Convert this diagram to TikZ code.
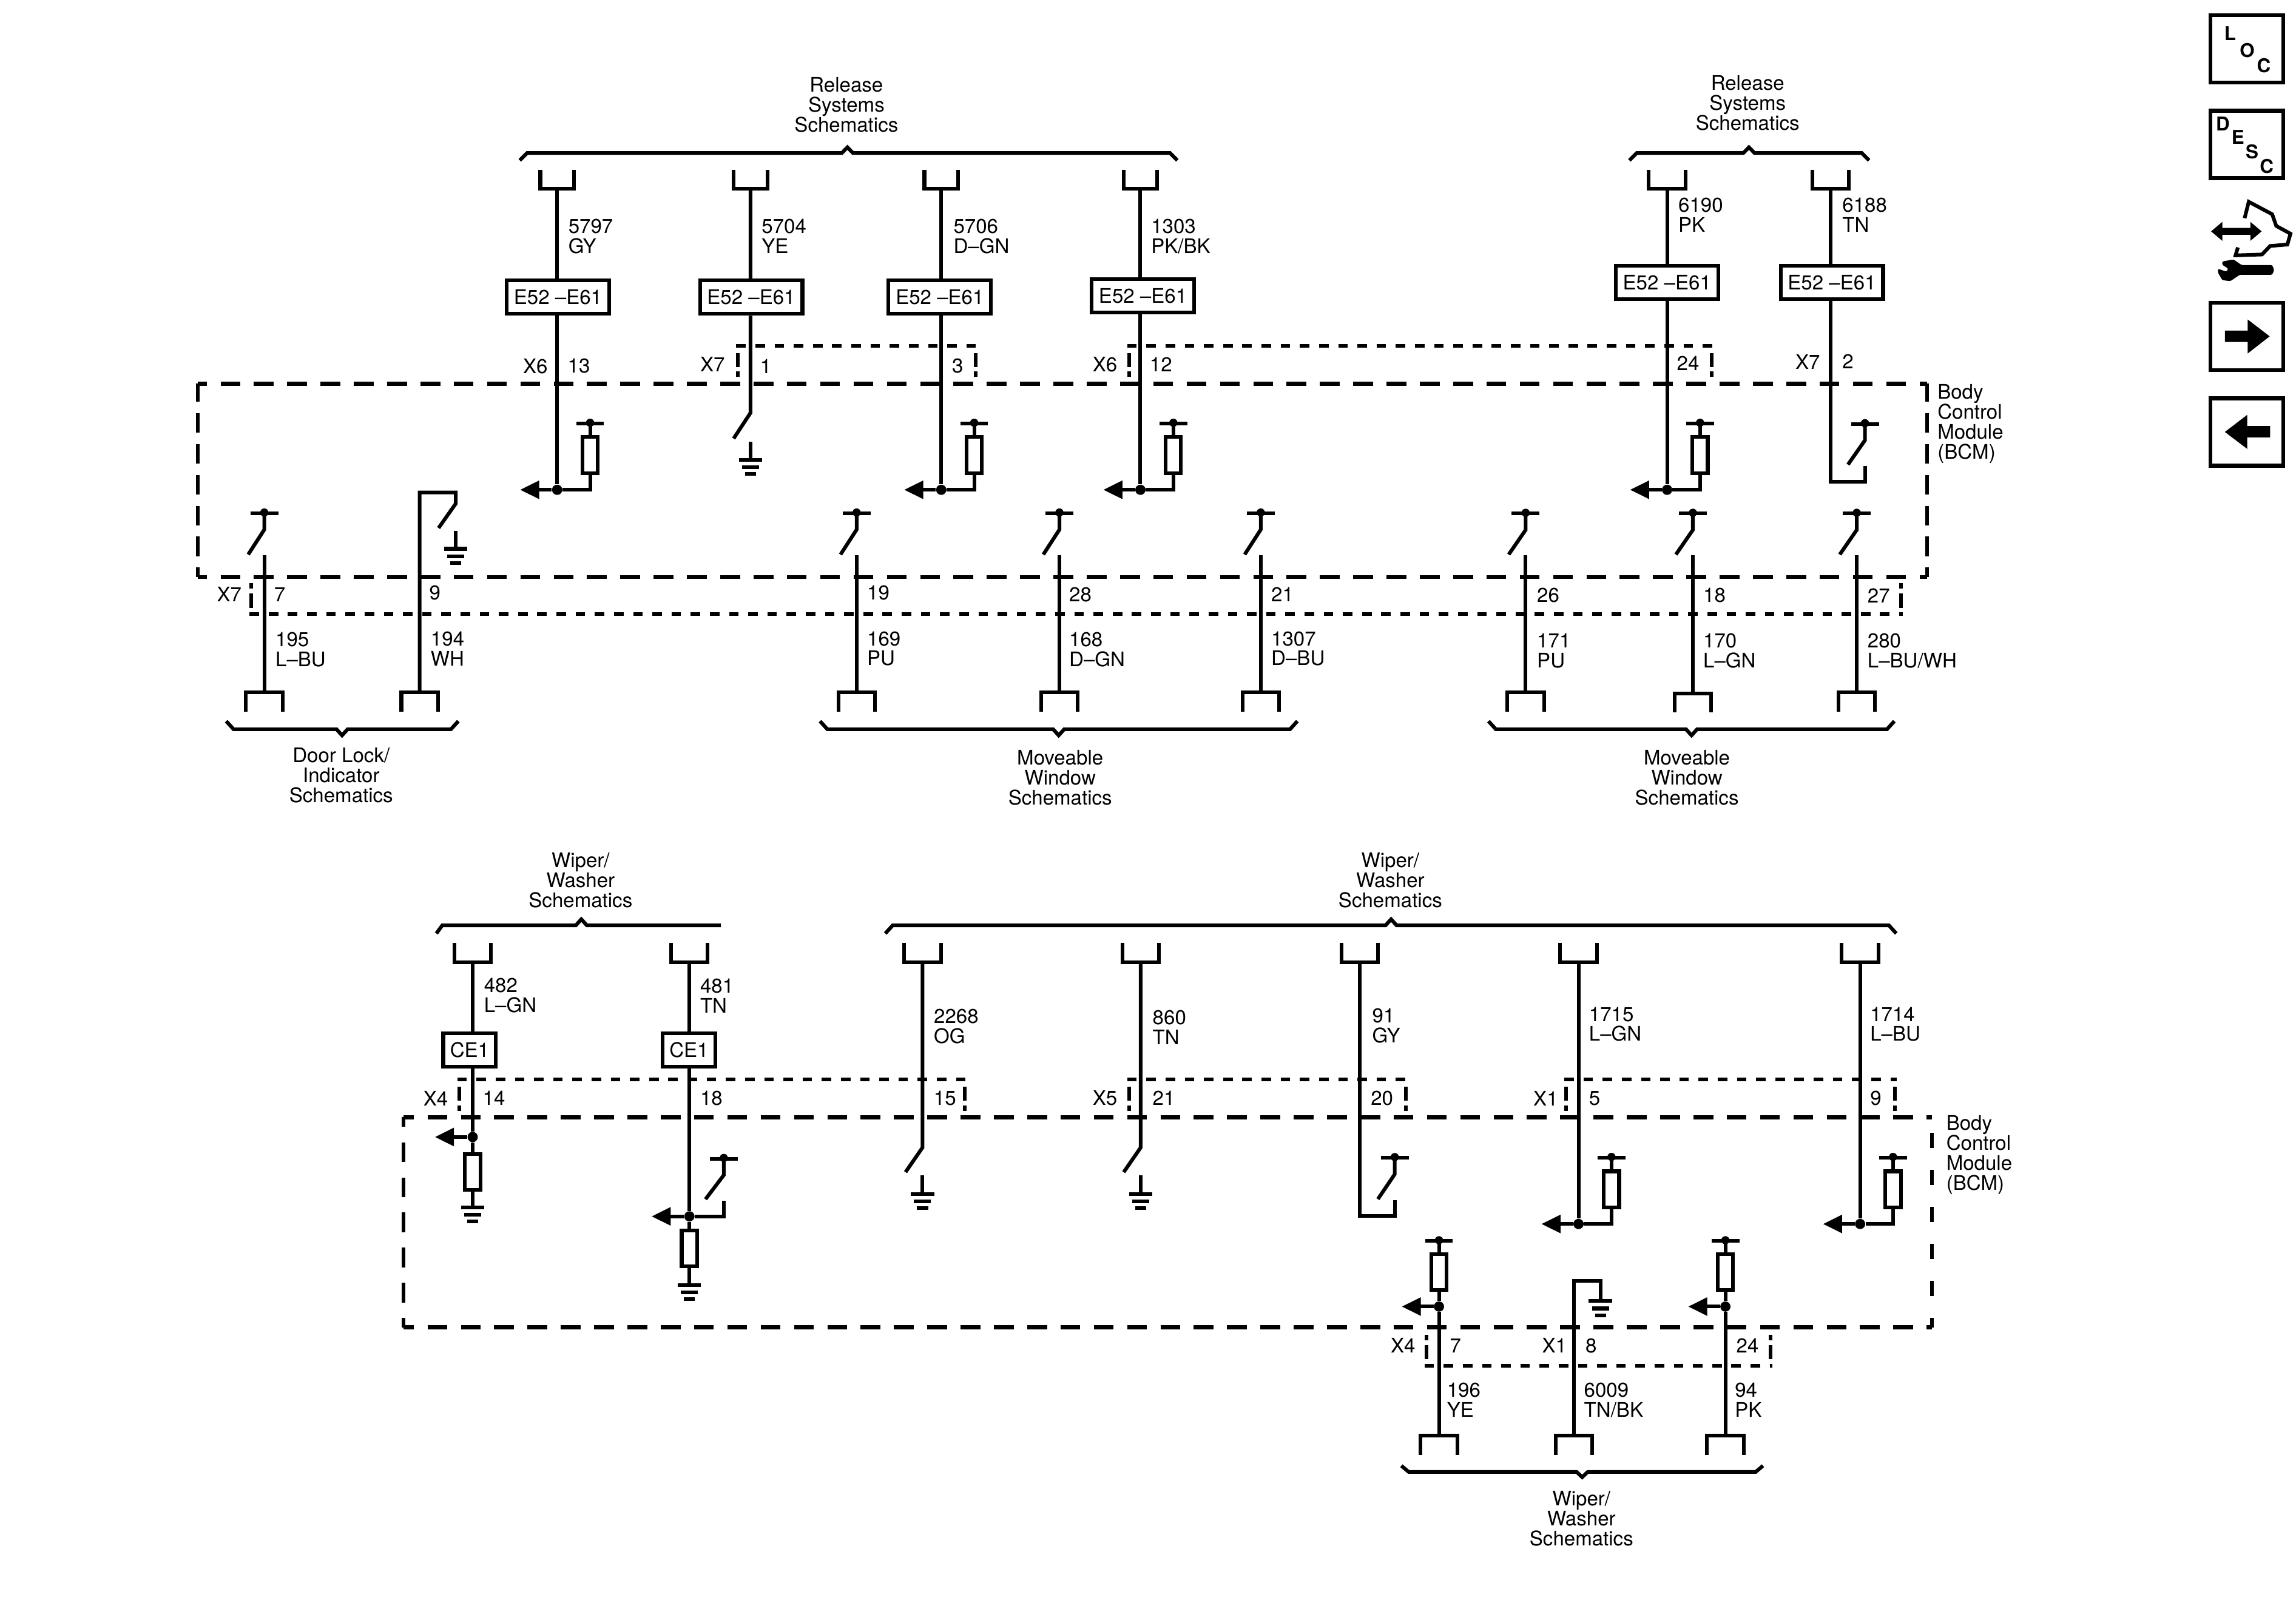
\documentclass[tikz,border=0pt]{standalone}
\usepackage{fontspec}
\setmainfont{TeX Gyre Heros}
\usetikzlibrary{arrows.meta}
\newcommand{\lblfont}{\fontsize{13.7}{13.65}\selectfont}
\newcommand{\iconfont}{\fontsize{13}{13}\selectfont\bfseries}
\tikzstyle{wire}=[line width=2.5pt]
\tikzstyle{sig}=[wire,-{Triangle[length=13pt,width=12pt]}]
\tikzstyle{bcm}=[line width=2.7pt,dash pattern=on 13.5pt off 9.25pt,dash phase=7.1pt]
\tikzstyle{bcmside}=[line width=2.5pt,dash pattern=on 13.4pt off 7.7pt,dash phase=7pt]
\tikzstyle{conn}=[line width=2.5pt,dash pattern=on 6.5pt off 6.6pt]
\tikzstyle{connside}=[line width=2.5pt,dash pattern=on 3.7pt off 3.3pt on 9.7pt off 20pt]
\tikzstyle{lbl}=[anchor=west,align=left,inner sep=0pt,font=\lblfont]
\tikzstyle{title}=[align=center,inner sep=0pt,font=\lblfont]
\tikzstyle{box}=[draw,wire,fill=white,inner sep=0pt,minimum width=70pt,minimum height=22.8pt,font=\lblfont]
\tikzstyle{cebox}=[box,minimum width=36pt]
\tikzstyle{res}=[draw,wire,fill=white,inner sep=0pt,minimum width=10.5pt,minimum height=24.5pt]
\tikzstyle{jdot}=[circle,fill,inner sep=0pt,minimum size=7pt]
\tikzstyle{sidebox}=[draw,line width=2.7pt,inner sep=0pt,minimum width=49.7pt,minimum height=46pt]
\tikzstyle{letter}=[inner sep=0pt,font=\iconfont]

% plug above / below the end of a wire
\newcommand{\plugtop}[2][25]{\draw[wire] (#2) ++(-#1/2,-13) -- ++(0,13) -- ++(#1,0) -- ++(0,-13);}
\newcommand{\plugbot}[1]{\draw[wire] (#1) ++(-12.5,13) -- ++(0,-13) -- ++(25,0) -- ++(0,13);}
\newcommand{\gnd}[1]{\draw[wire] (#1) ++(-8,0) -- ++(16,0) ++(-13.8,5) -- ++(11.6,0) ++(-9.6,4.6) -- ++(7.6,0);}
\newcommand{\tbar}[1]{\draw[wire] (#1) ++(-9.5,0) -- ++(19,0); \fill (#1) ++(0,-.5) circle (2.8);}
\newcommand{\swtop}[3]{\tbar{#1} \draw[wire] (#1) -- ++(0,11.2) -- ++(#2,#3);}
\newcommand{\wbrace}[6]{\draw[wire] (#1,#5) -- (#1+5,#4) -- (#3-3.8,#4) -- (#3,#6) -- (#3+3.8,#4) -- (#2-5,#4) -- (#2,#5);}
\newcommand{\shell}[5]{
  \draw[conn] (#1-1.2,#3) -- (#2+1.2,#3);
  \draw[connside] (#1,#4) -- (#1,#5);
  \draw[connside] (#2,#4) -- (#2,#5);}
\newcommand{\outstage}[3]{
  \node[jdot] (#1j) at (#2,#3) {};
  \draw (#1j) ++(22.5,-23.7) node[res] (#1r) {};
  \draw (#1j) ++(22.5,-45.3) coordinate (#1t);
  \draw (#1j) ++(-25.3,0) coordinate (#1a);
  \draw[wire] (#1j) -| (#1r) -- (#1t);
  \draw[sig] (#1j) -- (#1a);
  \tbar{#1t}}
\newcommand{\instage}[3]{
  \node[jdot] (#1j) at (#2,#3) {};
  \draw (#1j) ++(0,-23.5) node[res] (#1r) {};
  \draw (#1j) ++(0,-44.8) coordinate (#1t);
  \draw (#1j) ++(-25.4,0) coordinate (#1a);
  \draw[wire] (#1j) -- (#1r) -- (#1t);
  \draw[sig] (#1j) -- (#1a);
  \tbar{#1t}}

\begin{document}
\begin{tikzpicture}[x=1pt,y=-1pt]
  \useasboundingbox (0,0) rectangle (1568,1104.3);

  % upper module
  \coordinate (ua) at (135,262);
  \coordinate (ub) at (1316,262);
  \coordinate (uc) at (1316,394);
  \coordinate (ud) at (135,394);
  \draw[bcm] (ua) -- (ub);
  \draw[bcm] (ud) -- (uc);
  \draw[bcmside] (ud) -- (ua);
  \draw[bcmside] (uc) -- (ub);
  \shell{504}{666.5}{236}{257.5}{241}
  \shell{771}{1169}{236}{257.5}{241}
  \shell{171.6}{1298.4}{419.5}{398.4}{415}

  \node[title] (t1) at (578,71.5) {Release\\Systems\\Schematics};
  \node[title] (t2) at (1193.5,70.5) {Release\\Systems\\Schematics};
  \node[title] (t3) at (233,529.5) {Door Lock/\\Indicator\\Schematics};
  \node[title] (t4) at (724,531) {Moveable\\Window\\Schematics};
  \node[title] (t5) at (1152,531) {Moveable\\Window\\Schematics};
  \node[lbl] (m1) at (1323,289.3) {Body\\Control\\Module\\(BCM)};
  \wbrace{355}{804}{578.7}{104.5}{109.5}{100.6}
  \wbrace{1112.7}{1276.4}{1194.4}{104.5}{109.5}{100.6}
  \wbrace{154.5}{313}{233.6}{498}{492.5}{502.2}
  \wbrace{560}{886}{723}{498}{492.5}{502.2}
  \wbrace{1016.5}{1293.7}{1155.2}{498}{492.5}{502.2}

  % wires going in from the top
  \coordinate (pa) at (380.5,129);
  \node[box] (ba) at (381,203) {E52 –E61};
  \outstage{a}{380.5}{334.5}
  \draw[wire] (pa) -- (pa|-ba.north) (pa|-ba.south) -- (aj);
  \plugtop[23]{pa}
  \node[lbl] (la) at (388,161.5) {5797\\GY};
  \node[lbl] (xa) at (357,250) {X6};
  \node[lbl] (na) at (387.5,250) {13};

  \coordinate (pb) at (512.5,129);
  \node[box] (bb) at (513,203) {E52 –E61};
  \coordinate (sb) at (512.5,282);
  \coordinate (eb) at (501,299.5);
  \coordinate (gb) at (512.5,314);
  \draw[wire] (pb) -- (pb|-bb.north) (pb|-bb.south) -- (sb) -- (eb);
  \draw[wire] (gb) -- ++(0,-12.5);
  \plugtop[23]{pb}
  \gnd{gb}
  \node[lbl] (lb) at (520,161.5) {5704\\YE};
  \node[lbl] (xb) at (478,249) {X7};
  \node[lbl] (nb) at (519,250) {1};

  \coordinate (pc) at (642.8,129);
  \node[box] (bc) at (641.8,203) {E52 –E61};
  \outstage{c}{642.8}{334.5}
  \draw[wire] (pc) -- (pc|-bc.north) (pc|-bc.south) -- (cj);
  \plugtop[23]{pc}
  \node[lbl] (lc) at (651,161.5) {5706\\D–GN};
  \node[lbl] (nc) at (650,250) {3};

  \coordinate (pd) at (778.8,129);
  \node[box] (bd) at (780.5,202) {E52 –E61};
  \outstage{d}{778.8}{334.5}
  \draw[wire] (pd) -- (pd|-bd.north) (pd|-bd.south) -- (dj);
  \plugtop[23]{pd}
  \node[lbl] (ld) at (786,161.5) {1303\\PK/BK};
  \node[lbl] (xd) at (746,249) {X6};
  \node[lbl] (nd) at (785,249) {12};

  \coordinate (pe) at (1138.5,129);
  \node[box] (be) at (1138.4,193) {E52 –E61};
  \outstage{e}{1138.5}{334.5}
  \draw[wire] (pe) -- (pe|-be.north) (pe|-be.south) -- (ej);
  \plugtop{pe}
  \node[lbl] (le) at (1146,146.8) {6190\\PK};
  \node[lbl] (ne) at (1145,248) {24};

  \coordinate (pf) at (1250.1,129);
  \node[box] (bf) at (1251,193) {E52 –E61};
  \coordinate (cf) at (1250.1,329);
  \coordinate (of) at (1273.6,318.4);
  \coordinate (tf) at (1273.6,289.5);
  \draw[wire] (pf) -- (pf|-bf.north) (pf|-bf.south) -- (cf) -- (cf-|of) -- (of);
  \swtop{tf}{-11.6}{16.6}
  \plugtop{pf}
  \node[lbl] (lf) at (1258,146.8) {6188\\TN};
  \node[lbl] (xf) at (1226,247) {X7};
  \node[lbl] (nf) at (1258,247) {2};

  % wires going out at the bottom
  \coordinate (tg) at (180.5,350.5);
  \coordinate (pg) at (180.5,473);
  \draw[wire] (pg) -- ++(0,-94);
  \swtop{tg}{-11}{17}
  \plugbot{pg}
  \node[lbl] (lg) at (188,443.5) {195\\L–BU};
  \node[lbl] (xg) at (148,406) {X7};
  \node[lbl] (ng) at (187,406) {7};

  \coordinate (ph) at (286.6,473);
  \coordinate (uh) at (286.6,336.3);
  \coordinate (rh) at (311.2,344);
  \coordinate (eh) at (299.5,360.6);
  \coordinate (gh) at (311.2,374.8);
  \draw[wire] (ph) -- (uh) -- (uh-|rh) -- (rh) -- (eh);
  \draw[wire] (gh) -- ++(0,-12.3);
  \plugbot{ph}
  \gnd{gh}
  \node[lbl] (lh) at (294,443) {194\\WH};
  \node[lbl] (nh) at (293,405) {9};

  \coordinate (ti) at (585,350.5);
  \coordinate (pi) at (585,473);
  \draw[wire] (pi) -- ++(0,-94);
  \swtop{ti}{-11}{17}
  \plugbot{pi}
  \node[lbl] (li) at (592,443) {169\\PU};
  \node[lbl] (ni) at (592,405) {19};

  \coordinate (tj) at (723.5,350.5);
  \coordinate (pj) at (723.5,473);
  \draw[wire] (pj) -- ++(0,-94);
  \swtop{tj}{-11}{17}
  \plugbot{pj}
  \node[lbl] (lj) at (730,443.5) {168\\D–GN};
  \node[lbl] (nj) at (730,406) {28};

  \coordinate (tk) at (861,350.5);
  \coordinate (pk) at (861,473);
  \draw[wire] (pk) -- ++(0,-94);
  \swtop{tk}{-11}{17}
  \plugbot{pk}
  \node[lbl] (lk) at (868,443) {1307\\D–BU};
  \node[lbl] (nk) at (868,406) {21};

  \coordinate (tl) at (1041.9,350.7);
  \coordinate (pl) at (1041.9,473);
  \draw[wire] (pl) -- ++(0,-94);
  \swtop{tl}{-11.6}{16.8}
  \plugbot{pl}
  \node[lbl] (ll) at (1049.5,444.5) {171\\PU};
  \node[lbl] (nl) at (1049.5,406.7) {26};

  \coordinate (tm) at (1156.1,350.7);
  \coordinate (pm) at (1156.1,473.5);
  \draw[wire] (pm) -- ++(0,-94.5);
  \swtop{tm}{-11.6}{16.8}
  \plugbot{pm}
  \node[lbl] (lm) at (1163,444.5) {170\\L–GN};
  \node[lbl] (nm) at (1163,406.7) {18};

  \coordinate (tn) at (1268,350.7);
  \coordinate (pn) at (1268,473);
  \draw[wire] (pn) -- ++(0,-94);
  \swtop{tn}{-11.6}{16.8}
  \plugbot{pn}
  \node[lbl] (ln) at (1275.2,444.5) {280\\L–BU/WH};
  \node[lbl] (nn) at (1275.2,406.7) {27};

  % lower module
  \coordinate (va) at (275.7,763);
  \coordinate (vb) at (1319.4,763);
  \coordinate (vc) at (1319.4,906.5);
  \coordinate (vd) at (275.7,906.5);
  \draw[bcm,dash phase=6.45pt] (va) -- (vb);
  \draw[bcm,dash phase=6.45pt] (vd) -- (vc);
  \draw[bcmside,dash pattern=on 13.4pt off 10.6pt] (vd) -- (va);
  \draw[bcmside,dash pattern=on 10.5pt off 14.8pt,dash phase=4pt] (vc) -- (vb);
  \shell{313.5}{659}{737}{758.6}{742}
  \shell{771}{960}{737}{758.6}{742}
  \shell{1069.5}{1294}{737}{758.6}{742}
  \shell{974}{1209}{932.6}{911.5}{928}

  \node[title] (t6) at (396.5,601) {Wiper/\\Washer\\Schematics};
  \node[title] (t7) at (949.5,601) {Wiper/\\Washer\\Schematics};
  \node[title] (t8) at (1080,1037) {Wiper/\\Washer\\Schematics};
  \node[lbl] (m2) at (1329,788.6) {Body\\Control\\Module\\(BCM)};
  \draw[wire] (298,637.5) -- (302,632) -- (393.2,632) -- (397,627.8) -- (400.8,632) -- (492.3,632);
  \wbrace{604.6}{1295}{950}{632}{637.5}{627.8}
  \wbrace{957}{1204}{1080.5}{1005.2}{1001}{1008.8}

  \coordinate (po) at (322.8,657);
  \node[cebox] (bo) at (320.7,717) {CE1};
  \node[jdot] (jo) at (322.8,776.5) {};
  \node[res] (ro) at (322.8,800.2) {};
  \coordinate (go) at (322.8,824.5);
  \coordinate (ao) at (297,776.5);
  \draw[wire] (po) -- (po|-bo.north) (po|-bo.south) -- (jo) -- (ro) -- (go);
  \draw[sig] (jo) -- (ao);
  \plugtop{po}
  \gnd{go}
  \node[lbl] (lo) at (330.4,680) {482\\L–GN};
  \node[lbl] (xo) at (289,750) {X4};
  \node[lbl] (no) at (329.5,750) {14};

  \coordinate (pq) at (470.8,657);
  \node[cebox] (bq) at (470.5,717) {CE1};
  \node[jdot] (jq) at (470.8,830.7) {};
  \node[res] (rq) at (470.8,852.5) {};
  \coordinate (gq) at (470.8,877.5);
  \coordinate (aq) at (445,830.7);
  \coordinate (tq) at (494.3,791.3);
  \coordinate (oq) at (494.3,820);
  \draw[wire] (pq) -- (pq|-bq.north) (pq|-bq.south) -- (jq) -- (rq) -- (gq);
  \draw[wire] (jq) -| (oq);
  \draw[sig] (jq) -- (aq);
  \swtop{tq}{-12.5}{16.5}
  \plugtop{pq}
  \gnd{gq}
  \node[lbl] (lq) at (478,680) {481\\TN};
  \node[lbl] (nq) at (478,750) {18};

  \coordinate (pr) at (630,657);
  \coordinate (sr) at (630,783.7);
  \coordinate (er) at (618.4,800.5);
  \coordinate (gr) at (630,815.6);
  \draw[wire] (pr) -- (sr) -- (er);
  \draw[wire] (gr) -- ++(0,-13);
  \plugtop{pr}
  \gnd{gr}
  \node[lbl] (lr) at (637.6,701) {2268\\OG};
  \node[lbl] (nr) at (637.5,750) {15};

  \coordinate (ps) at (779,657);
  \coordinate (ss) at (779,783.7);
  \coordinate (es) at (767.4,800.5);
  \coordinate (gs) at (779,815.6);
  \draw[wire] (ps) -- (ss) -- (es);
  \draw[wire] (gs) -- ++(0,-13);
  \plugtop{ps}
  \gnd{gs}
  \node[lbl] (ls) at (787,701.5) {860\\TN};
  \node[lbl] (xs) at (746,750) {X5};
  \node[lbl] (ns) at (787,750) {21};

  \coordinate (pu) at (928.5,657);
  \coordinate (cu) at (928.5,830.5);
  \coordinate (ou) at (952.5,819.5);
  \coordinate (tu) at (952.5,790.7);
  \draw[wire] (pu) -- (cu) -- (cu-|ou) -- (ou);
  \swtop{tu}{-11.5}{17}
  \plugtop{pu}
  \node[lbl] (lu) at (937,700.5) {91\\GY};
  \node[lbl] (nu) at (936,750) {20};

  \coordinate (pv) at (1078,657);
  \outstage{v}{1078}{835.9}
  \draw[wire] (pv) -- (vj);
  \plugtop{pv}
  \node[lbl] (lv) at (1085,699.5) {1715\\L–GN};
  \node[lbl] (xv) at (1047,750) {X1};
  \node[lbl] (nv) at (1085,750) {5};

  \coordinate (pw) at (1270.3,657);
  \outstage{w}{1270.3}{835.9}
  \draw[wire] (pw) -- (wj);
  \plugtop{pw}
  \node[lbl] (lw) at (1277,699.5) {1714\\L–BU};
  \node[lbl] (nw) at (1277,750) {9};

  \coordinate (py) at (982.7,980.5);
  \instage{y}{982.7}{892.3}
  \draw[wire] (py) -- (yj);
  \plugbot{py}
  \node[lbl] (ly) at (988,956.2) {196\\YE};
  \node[lbl] (xy) at (949.6,919) {X4};
  \node[lbl] (ny) at (990,919) {7};

  \coordinate (pz) at (1075,980.5);
  \coordinate (uz) at (1075,874.9);
  \coordinate (gz) at (1093,888.6);
  \draw[wire] (pz) -- (uz) -| (gz);
  \plugbot{pz}
  \gnd{gz}
  \node[lbl] (lz) at (1081.6,956.2) {6009\\TN/BK};
  \node[lbl] (xz) at (1053,919) {X1};
  \node[lbl] (nz) at (1082.6,919) {8};

  \coordinate (px) at (1178.3,980.5);
  \instage{x}{1178.3}{892.3}
  \draw[wire] (px) -- (xj);
  \plugbot{px}
  \node[lbl] (lx) at (1184.6,956.2) {94\\PK};
  \node[lbl] (nx) at (1185.6,919) {24};

  % side icons
  \node[sidebox] (loc) at (1534.5,33.4) {};
  \node[letter] (l1) at (1523,22.9) {L};
  \node[letter] (l2) at (1534.7,34.5) {O};
  \node[letter] (l3) at (1546,44.9) {C};
  \node[sidebox] (desc) at (1534.5,98.7) {};
  \node[letter] (d1) at (1518,84.6) {D};
  \node[letter] (d2) at (1528.3,93.5) {E};
  \node[letter] (d3) at (1538,103.6) {S};
  \node[letter] (d4) at (1548,113.7) {C};
  \fill (1510,158) -- (1517.7,151.5) -- (1517.7,155.7) -- (1536.8,155.7) -- (1536.8,151.5) -- (1544.5,158) -- (1536.8,164.5) -- (1536.8,160.3) -- (1517.7,160.3) -- (1517.7,164.5) -- cycle;
  \draw[wire] (1532.9,149) -- (1535.7,137.8) -- (1551.7,146.3) -- (1554.5,154.3) -- (1564.2,159.6) -- (1562.1,167) -- (1550.3,168) -- (1544.8,173.8) -- (1526.7,174.4) -- (1528.3,169);
  \fill[rounded corners=1pt] (1517.6,178.6) -- (1525.3,177.2) -- (1530.8,181) -- (1551.7,181) -- (1553.1,184.4) -- (1551.7,187.7) -- (1529.5,187.7) -- (1523.2,192) -- (1517.6,191.3) -- (1514.6,186) -- (1514.8,183.5) -- (1520.4,185.6) -- (1521.8,183.5) -- (1517.6,180.8) -- cycle;
  \node[sidebox] (next) at (1534.5,229.7) {};
  \fill (1519.4,225.8) -- (1535,225.8) -- (1535,218.2) -- (1550,229.7) -- (1535,241.4) -- (1535,233.6) -- (1519.4,233.6) -- cycle;
  \node[sidebox] (prev) at (1534.5,295) {};
  \fill (1550.3,290.9) -- (1534.7,290.9) -- (1534.7,283.3) -- (1519.4,295) -- (1534.7,306.6) -- (1534.7,298.7) -- (1550.3,298.7) -- cycle;
\end{tikzpicture}
\end{document}
